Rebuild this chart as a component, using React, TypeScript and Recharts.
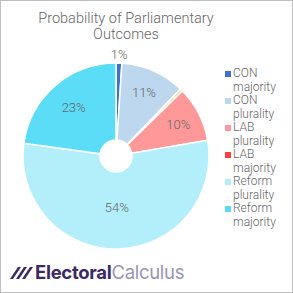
import React from 'react';
import { PieChart, Pie, Cell, Legend } from 'recharts';

const outcomes = ['CON majority', 'CON plurality', 'Other', 'LAB plurality', 'LAB majority', 'Reform plurality', 'Reform majority'];
const probabilities = [1.0, 11.1, 0.45, 9.55, 0, 54.4, 22.6];
const sliceColors = ['#3f6fcf', '#bdd7ee', '#ffd966', '#ff9999', '#ff4040', '#b3eefb', '#5bdcf7'];
const legendOutcomes = ['CON majority', 'CON plurality', 'LAB plurality', 'LAB majority', 'Reform plurality', 'Reform majority'];
const titleLines = ['Probability of Parliamentary', 'Outcomes'];

const data = outcomes.map((name, i) => ({ name, value: probabilities[i], color: sliceColors[i] }));

const RAD = Math.PI / 180;
const FONT = 'Roboto, "Noto Sans", sans-serif';

const renderLabel = (props: any) => {
  const { cx, cy, midAngle, outerRadius, percent, value } = props;
  const rounded = Math.round(value);
  if (rounded < 1) return null;
  const r = percent < 0.03 ? outerRadius + 9 : 74 - 42 * percent;
  const x = cx + r * Math.cos(-midAngle * RAD);
  const y = cy + r * Math.sin(-midAngle * RAD);
  return (
    <text x={x} y={y + 4.6} fill="#666" fontSize={13} fontWeight={300} fontFamily={FONT} textAnchor="middle">
      {rounded}%
    </text>
  );
};

const renderLegend = () => (
  <div style={{ fontFamily: FONT, fontSize: 12, fontWeight: 300, color: '#666', lineHeight: '13.5px' }}>
    {legendOutcomes.map((name) => {
      const c = sliceColors[outcomes.indexOf(name)];
      return (
        <div key={name} style={{ display: 'flex', alignItems: 'flex-start' }}>
          <div style={{ width: 6, height: 6, background: c, marginTop: 4, marginRight: 2, flexShrink: 0 }} />
          <div style={{ width: 52 }}>{name}</div>
        </div>
      );
    })}
  </div>
);

export default function App() {
  return (
    <div style={{ position: 'absolute', left: 0, top: 0, width: 293, height: 293, boxSizing: 'border-box', border: '1px solid #bdbdbd', background: '#fff', overflow: 'hidden' }}>
      <div style={{ position: 'absolute', left: 0, top: 10, width: 250, textAlign: 'center', fontFamily: FONT, fontWeight: 300, fontSize: 14.5, lineHeight: '16px', color: '#666' }}>
        {titleLines.map((t) => (<div key={t}>{t}</div>))}
      </div>
      <div style={{ position: 'absolute', left: -1, top: -1 }}>
        <PieChart width={293} height={293} margin={{ top: 0, right: 0, bottom: 0, left: 0 }}>
          <Pie
            data={data}
            dataKey="value"
            nameKey="name"
            cx={116}
            cy={156}
            innerRadius={16}
            outerRadius={93}
            startAngle={90}
            endAngle={-270}
            stroke="#fff"
            strokeWidth={1.5}
            label={renderLabel}
            labelLine={false}
            isAnimationActive={false}
          >
            {data.map((d) => (<Cell key={d.name} fill={d.color} />))}
          </Pie>
          <Legend layout="vertical" align="right" verticalAlign="top" content={renderLegend} wrapperStyle={{ left: 225, top: 67, width: 62 }} />
        </PieChart>
      </div>
      <svg style={{ position: 'absolute', left: -1, top: -1 }} width={293} height={293}>
        <g fill="#3b2a66">
          <polygon points="10,279 13,279 21,267 18,267" />
          <polygon points="16,279 19,279 27,267 24,267" />
          <polygon points="22,279 25,279 33,267 30,267" />
        </g>
        <text x={35} y={279} fontFamily="Inter, sans-serif" fontSize={18.5} letterSpacing={-0.3}>
          <tspan fill="#3b2a66" fontWeight={700}>Electoral</tspan>
          <tspan fill="#9a93b3" fontWeight={400}>Calculus</tspan>
        </text>
      </svg>
    </div>
  );
}
